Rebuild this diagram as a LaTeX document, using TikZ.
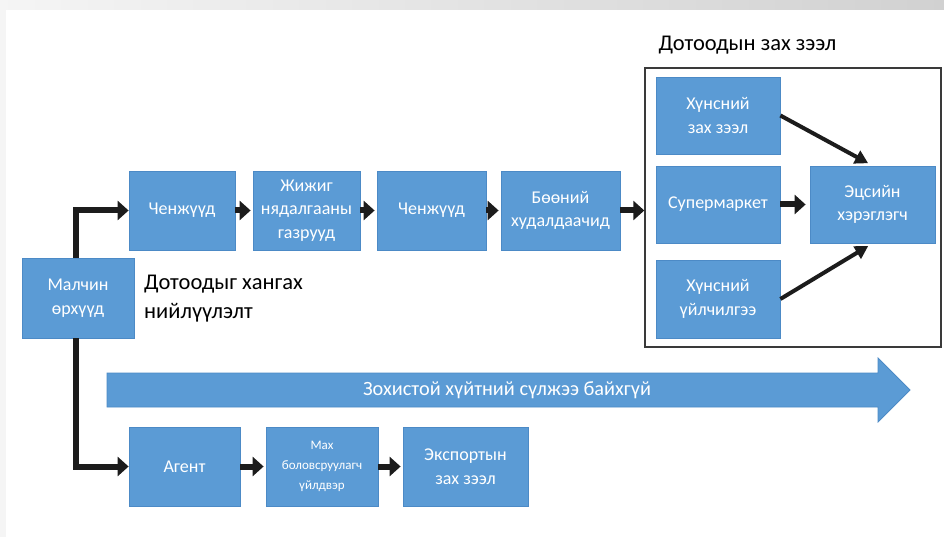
\documentclass[tikz,border=0pt]{standalone}
\usepackage{fontspec}
\setmainfont{Carlito}
\usetikzlibrary{arrows.meta,calc}

\definecolor{boxblue}{HTML}{5B9BD5}
\definecolor{boxedge}{HTML}{4C8AC6}
\definecolor{flow}{HTML}{1C1C1C}
\definecolor{frame}{HTML}{3A3A3A}

\tikzset{
  stage/.style={fill=boxblue, draw=boxedge, line width=0.8pt, text=white,
    align=center, inner sep=0pt, font=\fontsize{18}{23.5}\selectfont},
  smallstage/.style={stage, font=\fontsize{13}{20}\selectfont},
  flowarrow/.style={draw=flow, line width=6pt, line join=miter,
    -{Triangle[length=11pt,width=19pt]}},
  diagarrow/.style={draw=flow, line width=4pt,
    -{Triangle[length=13pt,width=14pt]}},
  heading/.style={text=black, font=\fontsize{22.5}{29}\selectfont, inner sep=0pt},
}

\begin{document}
\begin{tikzpicture}[x=1pt,y=-1pt]
  % page, top band and left strip
  \useasboundingbox (0,0) rectangle (944,537);
  \fill[white] (0,0) rectangle (944,537);
  \shade[left color=black!4, right color=black!18] (0,0) rectangle (944,10);
  \fill[black!4] (0,10) rectangle (6,537);

  % domestic market frame
  \node[draw=frame, line width=1.4pt, minimum width=296pt, minimum height=279pt,
        inner sep=0pt] (market) at (793,207.5) {};
  \node[heading] (markettitle) at (747.5,45) {Дотоодын зах зээл};

  % herders
  \node[stage, minimum width=112pt, minimum height=80pt] (herder) at (78,298) {Малчин\\өрхүүд};
  \node[heading, anchor=west, align=left] (supply) at (144,299) {Дотоодыг хангах\\нийлүүлэлт};

  % domestic chain
  \node[stage, minimum width=106pt, minimum height=79pt] (trader1) at (182,210.5) {Ченжүүд};
  \node[stage, minimum width=107pt, minimum height=79pt] (slaughter) at (306.5,210.5) {Жижиг\\нядалгааны\\газрууд};
  \node[stage, minimum width=109pt, minimum height=79pt] (trader2) at (431.5,210.5) {Ченжүүд};
  \node[stage, minimum width=119pt, minimum height=79pt] (wholesale) at (560.5,210.5) {Бөөний\\худалдаачид};

  % market outlets
  \node[stage, minimum width=124pt, minimum height=77pt] (foodmarket) at (718,115.5) {Хүнсний\\зах зээл};
  \node[stage, minimum width=124pt, minimum height=77pt] (super) at (718,204.5) {Супермаркет};
  \node[stage, minimum width=124pt, minimum height=78pt] (foodservice) at (718,299) {Хүнсний\\үйлчилгээ};
  \node[stage, minimum width=125pt, minimum height=77pt] (consumer) at (872.5,204.5) {Эцсийн\\хэрэглэгч};

  % export chain
  \node[stage, minimum width=111pt, minimum height=79pt] (agent) at (184.5,466.5) {Агент};
  \node[smallstage, minimum width=112pt, minimum height=79pt] (plant) at (322,466.5) {Мах\\боловсруулагч\\үйлдвэр};
  \node[stage, minimum width=125pt, minimum height=79pt] (export) at (465.5,466.5) {Экспортын\\зах зээл};

  % cold chain banner
  \fill[boxblue, draw=boxedge, line width=0.8pt]
    (107,373) -- (878,373) -- (878,358) -- (910,390) -- (878,422) -- (878,407) -- (107,407) -- cycle;
  \node[text=white, font=\fontsize{20.3}{24}\selectfont, inner sep=0pt] (coldchain) at (507,390)
    {Зохистой хүйтний сүлжээ байхгүй};

  % connectors
  \draw[flowarrow] ([xshift=-2pt]herder.north) |- (trader1.west);
  \draw[flowarrow] ([xshift=-2pt]herder.south) |- (agent.west);
  \draw[flowarrow, shorten >=2pt] (trader1) -- (slaughter);
  \draw[flowarrow, shorten >=2pt] (slaughter) -- (trader2);
  \draw[flowarrow, shorten >=2pt] (trader2) -- (wholesale);
  \draw[flowarrow] (wholesale.east) -- (market.west |- wholesale.east);
  \draw[flowarrow, shorten >=4pt] (super) -- (consumer);
  \draw[diagarrow, shorten >=5pt] (foodmarket.east) -- (consumer.north);
  \draw[diagarrow, shorten >=5pt] (foodservice.east) -- (consumer.south);
  \draw[flowarrow, shorten >=2pt] (agent) -- (plant);
  \draw[flowarrow, shorten >=2pt] (plant) -- (export);
\end{tikzpicture}
\end{document}
